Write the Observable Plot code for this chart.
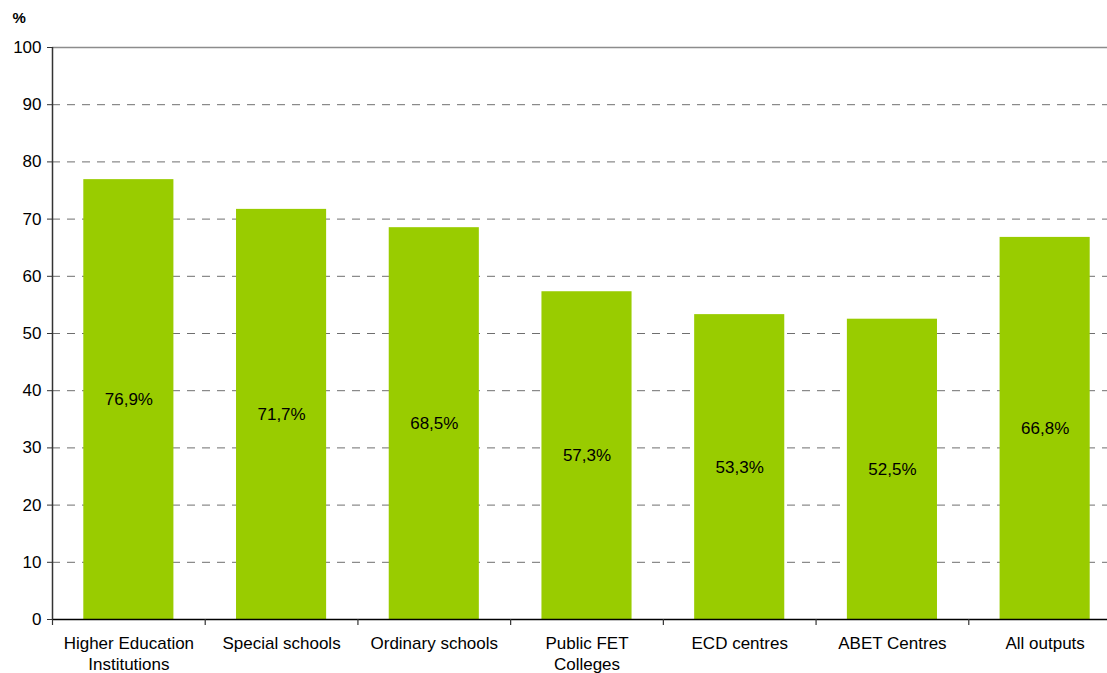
<!DOCTYPE html>
<html>
<head>
<meta charset="utf-8">
<script src="https://cdn.jsdelivr.net/npm/d3@7"></script>
<script src="https://cdn.jsdelivr.net/npm/@observablehq/plot@0.6"></script>
<style>
  html, body { margin: 0; padding: 0; background: #fff; overflow: hidden; }
  #chart svg { display: block; }
</style>
</head>
<body>
<div id="chart"></div>
<script>
const categories = ["Higher Education\nInstitutions", "Special schools", "Ordinary schools", "Public FET\nColleges", "ECD centres", "ABET Centres", "All outputs"];
const values = [76.9, 71.7, 68.5, 57.3, 53.3, 52.5, 66.8];
const valueLabels = ["76,9%", "71,7%", "68,5%", "57,3%", "53,3%", "52,5%", "66,8%"];
const yTicks = [0, 10, 20, 30, 40, 50, 60, 70, 80, 90, 100];
const gridTicks = [10, 20, 30, 40, 50, 60, 70, 80, 90];

const data = categories.map((c, i) => ({category: c, value: values[i], label: valueLabels[i]}));

const W = 1107, H = 673;
const left = 52, rightEnd = 1121;
const step = (rightEnd - left) / categories.length;
const font = "Arial, 'Liberation Sans', sans-serif";

const chart = Plot.plot({
  width: W,
  height: H,
  marginLeft: left,
  marginRight: 0,
  marginTop: 47,
  marginBottom: 54,
  style: {fontFamily: font, fontSize: "17px", color: "#000", background: "#fff"},
  x: {domain: categories, range: [left, rightEnd], paddingInner: 0.41, paddingOuter: 0.205, round: false, axis: null},
  y: {domain: [0, 100], axis: null},
  marks: [
    Plot.ruleY(gridTicks, {stroke: "#6f6f6f", strokeWidth: 1, strokeDasharray: "8,7"}),
    Plot.ruleY([100], {stroke: "#8c8c8c", strokeWidth: 1.5}),
    Plot.barY(data, {x: "category", y: "value", fill: "#99cc00"}),
    Plot.text(data, {x: "category", y: d => d.value / 2, text: "label", fontSize: 17, fill: "#000"}),
    Plot.ruleY([0], {stroke: "#000", strokeWidth: 1.5}),
    Plot.ruleX([categories[0]], {x: d => d, dx: -step / 2, y1: 0, y2: 100, stroke: "#333", strokeWidth: 1.5}),
    Plot.ruleX(categories, {x: d => d, dx: -step / 2, y1: 0, y2: 0, insetBottom: -6, stroke: "#333", strokeWidth: 1.2}),
    Plot.axisY({ticks: yTicks, tickSize: 5, tickPadding: 6, fontSize: 17, label: null, anchor: "left", stroke: "#333"}),
    Plot.axisX({tickSize: 0, tickPadding: 15, fontSize: 17, label: null, lineHeight: 1.22}),
    Plot.text(["%"], {frameAnchor: "top-left", dx: -40, dy: -35, textAnchor: "start", fontWeight: "bold", fontSize: 15})
  ]
});
document.getElementById("chart").append(chart);
</script>
</body>
</html>
